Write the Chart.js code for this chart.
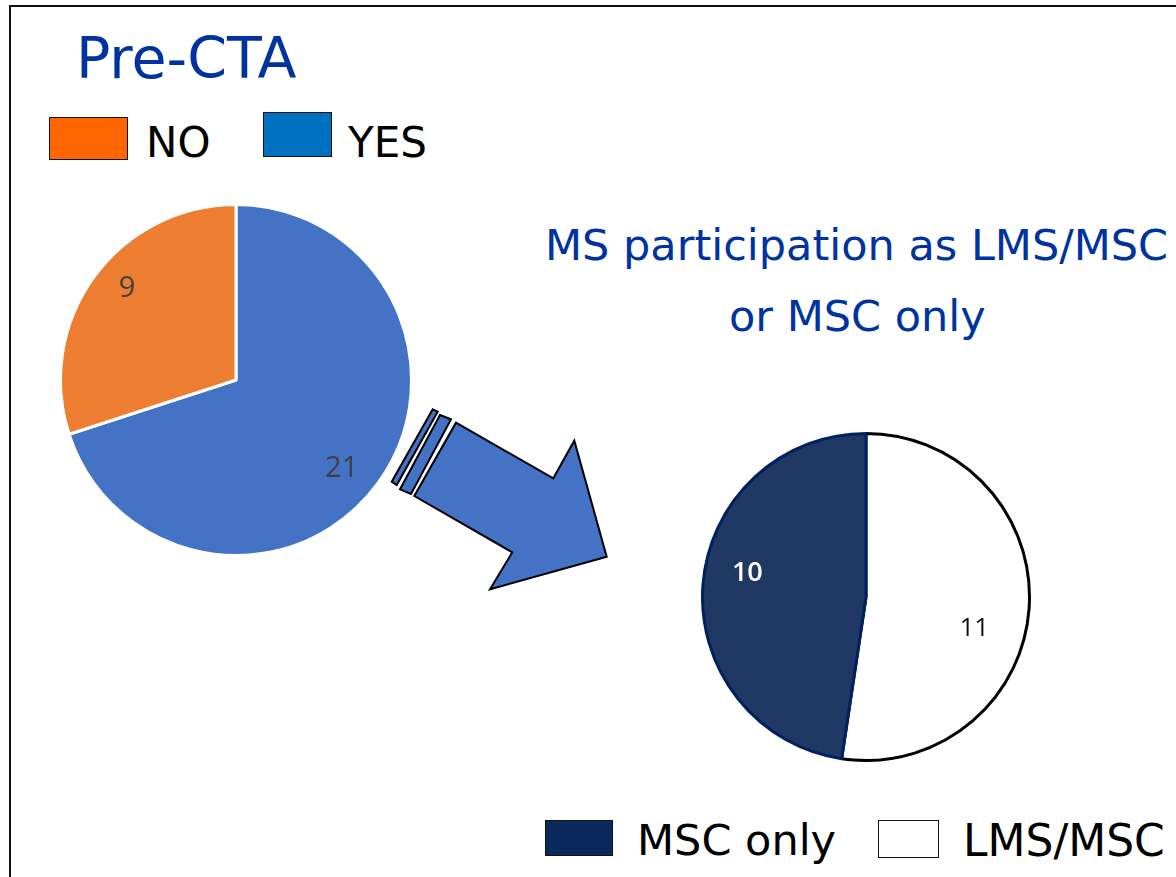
<!DOCTYPE html>
<html>
<head>
<meta charset="utf-8">
<script src="https://cdn.jsdelivr.net/npm/chart.js@4.4.1/dist/chart.umd.min.js"></script>
<style>
  html, body { margin: 0; padding: 0; background: #fff; width: 1176px; height: 877px; overflow: hidden; }
  .frame { position: absolute; left: 9px; top: 5px; width: 1300px; height: 1000px; border: 2px solid #111; }
  .txt { position: absolute; font-family: "DejaVu Sans", Verdana, sans-serif; white-space: nowrap; line-height: 1; }
  .blue { color: #0033A0; }
  .box { position: absolute; border: 1.5px solid #111; box-sizing: border-box; }
  .pie { position: absolute; }
  svg { position: absolute; left: 0; top: 0; }
</style>
</head>
<body>
<div class="frame"></div>

<div class="txt blue" style="left:76px; top:30px; font-size:57px;">Pre-CTA</div>

<div class="box" style="left:49px; top:117px; width:79px; height:43px; background:#FF6600;"></div>
<div class="txt" style="left:146px; top:122px; font-size:42px;">NO</div>
<div class="box" style="left:263px; top:112px; width:69px; height:45px; background:#0070C0;"></div>
<div class="txt" style="left:348px; top:122px; font-size:42px;">YES</div>

<div class="txt blue" style="left:545px; top:224px; font-size:43px;">MS participation as LMS/MSC</div>
<div class="txt blue" style="left:729px; top:295px; font-size:43px;">or MSC only</div>

<div class="box" style="left:545px; top:820px; width:68px; height:36px; background:#0A2A5E;"></div>
<div class="txt" style="left:637px; top:819px; font-size:43px;">MSC only</div>
<div class="box" style="left:878px; top:820px; width:61px; height:38px; background:#fff;"></div>
<div class="txt" style="left:963px; top:819px; font-size:44px;">LMS/MSC</div>

<svg width="1176" height="877">
  <g fill="#4472C4" stroke="#000" stroke-width="2" stroke-linejoin="miter">
    <polygon points="456,422.7 553.3,478.3 574.3,440.7 606.7,556.7 490,589.3 512.3,552.3 414.3,496"/>
    <polygon points="440,415 451,419.3 411,494 400,489.3"/>
    <polygon points="432.7,409.3 437.7,411.7 396.7,485 391.7,481.7"/>
  </g>
</svg>

<div class="pie" style="left:59px; top:203px;"><canvas id="preCta" width="354" height="354"></canvas></div>
<div class="pie" style="left:701px; top:432px;"><canvas id="msPart" width="330" height="330"></canvas></div>

<script>
// Pre-CTA pie (starts at 12 o'clock, clockwise)
const preLabels = ['YES', 'NO'];
const preValues = [21, 9];
const preColors = ['#4472C4', '#ED7D31'];

// MS participation pie
const msLabels = ['LMS/MSC', 'MSC only'];
const msValues = [11, 10];
const msColors = ['#FFFFFF', '#203864'];
const msBorders = ['#000000', '#002060'];

// numbers drawn inside the slices
const sliceLabels = {
    id: 'sliceLabels',
    afterDatasetsDraw(chart, args, opts) {
        const ctx = chart.ctx;
        const meta = chart.getDatasetMeta(0);
        ctx.save();
        ctx.textAlign = 'center';
        ctx.textBaseline = 'middle';
        meta.data.forEach((arc, i) => {
            const mid = (arc.startAngle + arc.endAngle) / 2 + opts.turn[i] * Math.PI / 180;
            const r = arc.outerRadius * opts.pos[i];
            ctx.font = opts.fonts[i];
            ctx.fillStyle = opts.colors[i];
            ctx.fillText(chart.data.datasets[0].data[i], arc.x + Math.cos(mid) * r, arc.y + Math.sin(mid) * r);
        });
        ctx.restore();
    }
};

new Chart(document.getElementById('preCta'), {
    type: 'pie',
    data: {
        labels: preLabels,
        datasets: [{ data: preValues, backgroundColor: preColors, borderColor: '#fff', borderWidth: 3 }]
    },
    options: {
        responsive: false,
        animation: false,
        layout: { padding: 0 },
        plugins: {
            legend: { display: false },
            tooltip: { enabled: false },
            sliceLabels: {
                fonts: ['29px "Open Sans", sans-serif', '29px "Open Sans", sans-serif'],
                pos: [0.786, 0.81], turn: [4, 4], colors: ['#404040', '#404040']
            }
        }
    },
    plugins: [sliceLabels]
});

new Chart(document.getElementById('msPart'), {
    type: 'pie',
    data: {
        labels: msLabels,
        datasets: [{ data: msValues, backgroundColor: msColors, borderColor: msBorders, borderWidth: 3 }]
    },
    options: {
        responsive: false,
        animation: false,
        layout: { padding: 0 },
        plugins: {
            legend: { display: false },
            tooltip: { enabled: false },
            sliceLabels: {
                fonts: ['26px "Open Sans", sans-serif', '600 27px "Open Sans", sans-serif'],
                pos: [0.69, 0.74], turn: [12, 7], colors: ['#111111', '#FFFFFF']
            }
        }
    },
    plugins: [sliceLabels]
});
</script>
</body>
</html>
